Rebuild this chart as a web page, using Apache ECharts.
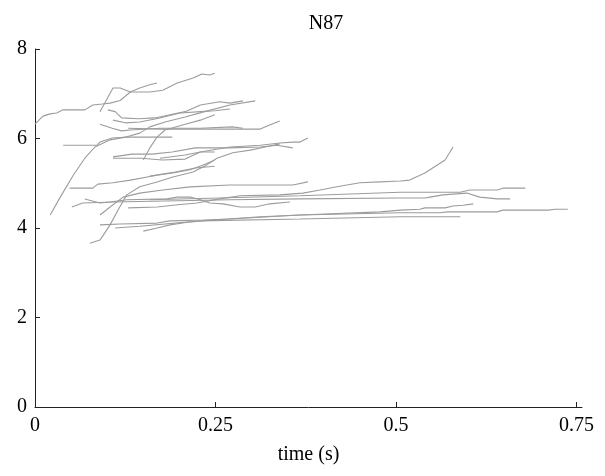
<!DOCTYPE html>
<html>
<head>
<meta charset="utf-8">
<script src="https://cdn.jsdelivr.net/npm/echarts@6/dist/echarts.min.js"></script>
<style>
  html, body { margin: 0; padding: 0; background: #fff; }
  #chart { width: 605px; height: 476px; }
</style>
</head>
<body>
<div id="chart"></div>
<script>
// Chart text
const chartTitle = 'N87';
const xAxisName = 'time (s)';
const xTickValues = [0, 0.25, 0.5, 0.75];
const xTickLabels = ['0', '0.25', '0.5', '0.75'];
const yTickLabels = ['0', '2', '4', '6', '8'];

// Traces: [time (s), value]
const trace01 = [[0,6.32],[0.011,6.50],[0.021,6.55],[0.030,6.57],[0.039,6.64],[0.069,6.64],[0.080,6.75],[0.093,6.77],[0.104,6.79],[0.118,6.85],[0.132,7.04],[0.145,7.13],[0.159,7.20],[0.169,7.24]];
const trace02 = [[0.090,6.60],[0.108,7.13],[0.118,7.13],[0.132,7.04],[0.159,7.04],[0.177,7.08],[0.197,7.24],[0.219,7.35],[0.231,7.44],[0.242,7.42],[0.249,7.46]];
const trace03 = [[0.101,6.64],[0.111,6.60],[0.120,6.46],[0.143,6.44],[0.166,6.46],[0.187,6.53],[0.208,6.60],[0.229,6.75],[0.256,6.82],[0.270,6.79],[0.288,6.84]];
const trace04 = [[0.108,6.41],[0.125,6.35],[0.145,6.37],[0.173,6.46],[0.201,6.57],[0.229,6.60],[0.249,6.62],[0.270,6.66]];
const trace05 = [[0.090,6.32],[0.107,6.23],[0.120,6.17],[0.132,6.19],[0.173,6.23],[0.229,6.23],[0.273,6.26],[0.288,6.23]];
const trace06 = [[0.129,6.23],[0.173,6.21],[0.229,6.21],[0.312,6.21],[0.325,6.30],[0.339,6.39]];
const trace07 = [[0.150,5.52],[0.159,5.79],[0.169,6.03],[0.180,6.19],[0.208,6.32],[0.229,6.41],[0.249,6.53]];
const trace08 = [[0.021,4.29],[0.035,4.69],[0.053,5.18],[0.069,5.56],[0.083,5.81],[0.104,5.97],[0.125,6.03],[0.145,6.12],[0.159,6.26],[0.180,6.37],[0.208,6.48],[0.235,6.60],[0.270,6.75],[0.305,6.84]];
const trace09 = [[0.039,5.85],[0.086,5.85],[0.090,5.92],[0.107,6.01],[0.129,6.03],[0.190,6.03]];
const trace10 = [[0.108,5.59],[0.134,5.65],[0.162,5.65],[0.190,5.70],[0.222,5.79],[0.270,5.79],[0.312,5.81],[0.335,5.85],[0.357,5.79]];
const trace11 = [[0.108,5.56],[0.148,5.56],[0.176,5.52],[0.208,5.54],[0.229,5.70],[0.270,5.81],[0.312,5.85],[0.339,5.90],[0.357,5.92],[0.367,5.92],[0.378,6.01]];
const trace12 = [[0.173,5.56],[0.208,5.63],[0.229,5.70],[0.249,5.70]];
const trace13 = [[0.159,5.16],[0.194,5.25],[0.222,5.34],[0.249,5.38]];
const trace14 = [[0.048,4.89],[0.080,4.89],[0.087,4.98],[0.108,5.01],[0.132,5.07],[0.169,5.18],[0.191,5.23],[0.215,5.30],[0.233,5.41],[0.249,5.52]];
const trace15 = [[0.090,4.29],[0.104,4.47],[0.122,4.69],[0.145,4.78],[0.177,4.85],[0.215,4.92],[0.270,4.96],[0.357,4.96],[0.378,5.03]];
const trace16 = [[0.076,3.66],[0.090,3.73],[0.104,4.07],[0.115,4.40],[0.127,4.74],[0.145,4.92],[0.169,5.03],[0.191,5.14],[0.219,5.25],[0.238,5.41],[0.252,5.56],[0.274,5.68],[0.298,5.74],[0.319,5.81],[0.339,5.88]];
const trace17 = [[0.129,4.45],[0.169,4.47],[0.191,4.51],[0.224,4.56],[0.256,4.65],[0.284,4.72],[0.339,4.74],[0.371,4.78],[0.395,4.85],[0.418,4.92],[0.450,5.01],[0.478,5.03],[0.506,5.05],[0.519,5.07],[0.540,5.23],[0.568,5.52],[0.579,5.81]];
const trace18 = [[0.069,4.65],[0.090,4.56],[0.104,4.58],[0.127,4.63],[0.183,4.65],[0.197,4.69],[0.215,4.69],[0.229,4.63],[0.242,4.56],[0.260,4.54],[0.284,4.47],[0.305,4.47],[0.325,4.54],[0.353,4.58]];
const trace19 = [[0.051,4.47],[0.066,4.56],[0.108,4.58],[0.270,4.63],[0.367,4.65],[0.506,4.67],[0.540,4.67],[0.547,4.69],[0.565,4.74],[0.598,4.78],[0.616,4.69],[0.640,4.65],[0.658,4.65]];
const trace20 = [[0.159,4.63],[0.256,4.67],[0.367,4.72],[0.506,4.80],[0.589,4.80],[0.602,4.85],[0.640,4.85],[0.648,4.89],[0.679,4.89]];
const trace21 = [[0.090,4.07],[0.118,4.09],[0.169,4.11],[0.187,4.16],[0.233,4.18],[0.270,4.20],[0.367,4.29],[0.478,4.36],[0.506,4.40],[0.533,4.42],[0.540,4.45],[0.568,4.45],[0.579,4.49],[0.593,4.51],[0.607,4.54]];
const trace22 = [[0.150,3.93],[0.169,4.00],[0.187,4.07],[0.211,4.13],[0.247,4.18],[0.312,4.25],[0.367,4.29],[0.506,4.34],[0.561,4.34],[0.571,4.36],[0.640,4.36],[0.648,4.40],[0.711,4.40],[0.720,4.42],[0.738,4.42]];
const trace23 = [[0.111,4.00],[0.145,4.04],[0.229,4.16],[0.367,4.20],[0.506,4.25],[0.589,4.25]];

const traces = [trace01, trace02, trace03, trace04, trace05, trace06, trace07, trace08,
  trace09, trace10, trace11, trace12, trace13, trace14, trace15, trace16, trace17,
  trace18, trace19, trace20, trace21, trace22, trace23];

const FONT = '"Liberation Serif", "DejaVu Serif", serif';
const chart = echarts.init(document.getElementById('chart'), null, { renderer: 'canvas' });

chart.setOption({
  animation: false,
  backgroundColor: '#ffffff',
  title: {
    text: chartTitle,
    left: 321,
    textAlign: 'center',
    top: 9,
    textStyle: { fontFamily: FONT, fontSize: 20, fontWeight: 'normal', color: '#000' }
  },
  grid: { left: 35, top: 49, width: 547, height: 358, containLabel: false },
  xAxis: {
    type: 'value',
    min: 0,
    max: 0.7576,
    name: xAxisName,
    nameLocation: 'middle',
    nameGap: 38,
    nameTextStyle: { fontFamily: FONT, fontSize: 20, color: '#000' },
    splitLine: { show: false },
    axisLine: { show: true, onZero: false, lineStyle: { color: '#222', width: 1 } },
    axisTick: { show: true, inside: true, length: 5, customValues: xTickValues, lineStyle: { color: '#222' } },
    axisLabel: {
      customValues: xTickValues,
      margin: 9,
      fontFamily: FONT, fontSize: 20, color: '#000',
      formatter: function (v) {
        const i = xTickValues.findIndex(t => Math.abs(t - v) < 1e-6);
        return i >= 0 ? xTickLabels[i] : '';
      }
    }
  },
  yAxis: {
    type: 'value',
    min: 0,
    max: 8,
    interval: 2,
    splitLine: { show: false },
    axisLine: { show: true, onZero: false, lineStyle: { color: '#222', width: 1 } },
    axisTick: { show: true, inside: true, length: 5, lineStyle: { color: '#222' } },
    axisLabel: {
      margin: 8,
      fontFamily: FONT, fontSize: 20, color: '#000',
      formatter: function (v) {
        const i = Math.round(v / 2);
        return yTickLabels[i] !== undefined ? yTickLabels[i] : '';
      }
    }
  },
  series: traces.map((t, i) => ({
    name: 'trace' + (i + 1),
    type: 'line',
    data: t,
    showSymbol: false,
    symbol: 'none',
    smooth: false,
    lineStyle: { color: '#9c9c9c', width: 1.1 },
    emphasis: { disabled: true },
    z: 2
  }))
});
</script>
</body>
</html>
